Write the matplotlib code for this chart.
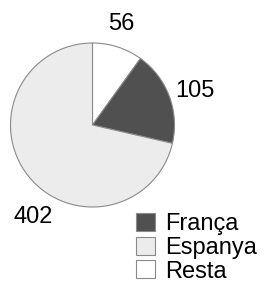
import matplotlib
matplotlib.use('Agg')
import matplotlib.pyplot as plt

plt.rcParams['font.family'] = ['Liberation Sans', 'DejaVu Sans']

# data, clockwise from the top
labels = ['Resta', 'França', 'Espanya']
values = [56, 105, 402]
colors = ['white', '#505050', '#ececec']
legend_order = [1, 2, 0]

# figure geometry in pixels
W, H = 269, 284
cx, cy, r = 92.5, 125, 82

fig = plt.figure(figsize=(W/100, H/100), dpi=100)
ax = fig.add_axes([0, 0, 1, 1])

wedges, _ = ax.pie(values, colors=colors, startangle=90, counterclock=False,
                   radius=1, wedgeprops=dict(edgecolor='#8a8a8a', linewidth=0.8))

ax.set_xlim(-cx/r, (W-cx)/r)
ax.set_ylim(-(H-cy)/r, cy/r)
ax.set_aspect('equal')
ax.axis('off')

# value labels, positions in pixel coords
label_px = [(121.7, 24), (194.5, 91), (33.5, 217)]
for v, (px, py) in zip(values, label_px):
    ax.text((px-cx)/r, (cy-py)/r, str(v), fontsize=17, ha='center', va='center')

leg = ax.legend([wedges[i] for i in legend_order], [labels[i] for i in legend_order],
                loc='upper left', bbox_to_anchor=(136/W, 1-213/H),
                bbox_transform=fig.transFigure, frameon=False, fontsize=17,
                handlelength=0.8, handleheight=0.8, handletextpad=0.45,
                labelspacing=0.06, borderpad=0, borderaxespad=0)

plt.savefig('out.png', dpi=100)
